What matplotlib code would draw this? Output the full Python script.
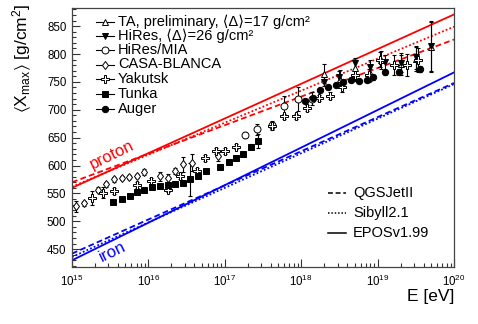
import numpy as np
import matplotlib
matplotlib.use("Agg")
import matplotlib.pyplot as plt
from matplotlib.ticker import LogLocator, MultipleLocator, LogFormatterSciNotation, NullFormatter

plt.rcParams['font.family'] = ['Liberation Sans', 'DejaVu Sans']
plt.rcParams['mathtext.fontset'] = 'custom'
plt.rcParams['mathtext.rm'] = 'Liberation Sans'
plt.rcParams['mathtext.it'] = 'Liberation Sans:italic'
plt.rcParams['mathtext.bf'] = 'Liberation Sans:bold'
plt.rcParams['mathtext.default'] = 'regular'
plt.rcParams['mathtext.fallback'] = 'stixsans'

# ---------------- data ----------------
model_logE = [15.0, 20.0]
proton_epos = [560, 871]
proton_qgsjet = [570, 826]
proton_sibyll = [562, 849]
iron_epos = [430, 767]
iron_qgsjet = [442, 748]
iron_sibyll = [436, 746]

ta_logE = [18.30, 18.51, 18.70, 18.90, 19.05, 19.30, 19.50, 19.70]
ta_xmax = [765, 756, 775, 766, 790, 782, 791, 812]
ta_err = [17, 15, 15, 15, 16, 20, 22, 45]

hires_logE = [18.30, 18.50, 18.70, 18.90, 19.10, 19.30, 19.50, 19.70]
hires_xmax = [750, 759, 783, 777, 785, 783, 794, 815]
hires_err = [8, 10, 10, 12, 14, 16, 20, 45]

hiresmia_logE = [17.26, 17.42, 17.62, 17.78, 17.96, 18.14]
hiresmia_xmax = [655, 665, 672, 707, 719, 720]
hiresmia_err = [6, 10, 8, 18, 22, 12]

casa_logE = [15.05, 15.16, 15.34, 15.45, 15.55, 15.65, 15.75, 15.85, 15.94,
             16.15, 16.25, 16.35, 16.45, 16.57, 16.91]
casa_xmax = [527, 532, 557, 566, 575, 578, 579, 581, 588,
             581, 578, 590, 602, 605, 617]
casa_err = [10, 4, 4, 4, 4, 4, 4, 4, 5, 8, 7, 6, 14, 15, 8]

yakutsk_logE = [15.26, 15.41, 15.55, 15.85, 16.04, 16.25, 16.41, 16.63, 16.74,
                16.89, 17.00, 17.15, 17.62, 17.77, 17.93, 18.07, 18.23, 18.38,
                18.54, 18.70, 18.89, 19.03, 19.21, 19.38, 19.53]
yakutsk_xmax = [542, 551, 554, 565, 572, 557, 581, 591, 614,
                626, 626, 634, 670, 688, 688, 703, 721, 725,
                740, 762, 762, 790, 780, 780, 789]
yakutsk_err = [12, 10, 5, 5, 5, 5, 5, 5, 5,
               5, 5, 5, 5, 5, 5, 5, 6, 6,
               8, 10, 12, 14, 18, 20, 22]

tunka_logE = [15.54, 15.65, 15.76, 15.85, 15.94, 16.05, 16.15, 16.26, 16.35, 16.45,
              16.55, 16.65, 16.76, 16.94, 17.05, 17.15, 17.24, 17.34, 17.43]
tunka_xmax = [535, 540, 546, 552, 557, 561, 563, 565, 567, 569,
              575, 582, 590, 598, 606, 614, 620, 634, 644]
tunka_err = [3, 3, 3, 3, 3, 3, 3, 3, 3, 3, 30, 3, 3, 3, 3, 3, 3, 5, 12]

auger_logE = [18.05, 18.15, 18.25, 18.35, 18.45, 18.55, 18.65, 18.75, 18.86,
              18.94, 19.10, 19.28, 19.55]
auger_xmax = [715, 722, 735, 740, 745, 749, 754, 752, 753, 758, 767, 768, 773]
auger_err = [3, 3, 3, 3, 3, 3, 3, 3, 3, 4, 4, 5, 6]

legend_labels = ["TA, preliminary, \u27e8\u0394\u27e9=17 g/cm\u00b2",
                 "HiRes, \u27e8\u0394\u27e9=26 g/cm\u00b2",
                 "HiRes/MIA", "CASA-BLANCA", "Yakutsk", "Tunka", "Auger"]
model_labels = ["QGSJetII", "Sibyll2.1", "EPOSv1.99"]

# ---------------- figure ----------------
W, H = 478, 324
fig = plt.figure(figsize=(W / 100, H / 100), dpi=100)
L, R, T, B = 72, 454, 8.3, 267
ax = fig.add_axes([L / W, 1 - B / H, (R - L) / W, (B - T) / H])

E = lambda lg: 10.0 ** np.asarray(lg)

red, blue = '#ff0000', '#0000ff'
dash = (0, (3.2, 1.8))
dot = (0, (1.0, 1.2))
lw = 1.3
ax.plot(E(model_logE), proton_epos, color=red, lw=lw, ls='-')
ax.plot(E(model_logE), proton_qgsjet, color=red, lw=lw, ls=dash)
ax.plot(E(model_logE), proton_sibyll, color=red, lw=lw, ls=dot)
ax.plot(E(model_logE), iron_epos, color=blue, lw=lw, ls='-')
ax.plot(E(model_logE), iron_qgsjet, color=blue, lw=lw, ls=dash)
ax.plot(E(model_logE), iron_sibyll, color=blue, lw=lw, ls=dot)

ax.text(3.3e15, 620, "proton", color=red, fontsize=12, rotation=26,
        ha='center', va='center')
ax.text(3.4e15, 445, "iron", color=blue, fontsize=12, rotation=26,
        ha='center', va='center')

styles = [
    (ta_logE, ta_xmax, ta_err, dict(marker='^', mfc='white', ms=5)),
    (hires_logE, hires_xmax, hires_err, dict(marker='v', mfc='black', ms=4.8)),
    (hiresmia_logE, hiresmia_xmax, hiresmia_err, dict(marker='o', mfc='white', ms=5)),
    (casa_logE, casa_xmax, casa_err, dict(marker='d', mfc='white', ms=4.5)),
    (yakutsk_logE, yakutsk_xmax, yakutsk_err, dict(marker='P', mfc='white', ms=5.2)),
    (tunka_logE, tunka_xmax, tunka_err, dict(marker='s', mfc='black', ms=4.4)),
    (auger_logE, auger_xmax, auger_err, dict(marker='o', mfc='black', ms=4.6)),
]
for lgE, xm, er, st in styles:
    ax.errorbar(E(lgE), xm, yerr=er, fmt='none', ecolor='black', elinewidth=0.8,
                capsize=1.6, capthick=0.8, zorder=3)
    ax.plot(E(lgE), xm, ls='none', mec='black', mew=0.7, zorder=4, **st)

ax.set_xscale('log')
ax.set_xlim(1e15, 1e20)
ax.set_ylim(418, 882)

ax.xaxis.set_major_locator(LogLocator(base=10, numticks=10))
ax.xaxis.set_minor_locator(LogLocator(base=10, subs=np.arange(2, 10), numticks=20))
ax.xaxis.set_major_formatter(LogFormatterSciNotation())
ax.xaxis.set_minor_formatter(NullFormatter())
ax.yaxis.set_major_locator(MultipleLocator(50))
ax.yaxis.set_minor_locator(MultipleLocator(10))

ax.tick_params(axis='both', which='both', direction='in', top=False, right=False,
               labelsize=8.3, width=0.8, color='#333333')
ax.tick_params(axis='both', which='major', length=6)
ax.tick_params(axis='both', which='minor', length=3)
ax.tick_params(axis='x', pad=5)
ax.tick_params(axis='y', pad=4)
for s in ax.spines.values():
    s.set_linewidth(0.9)
    s.set_color('#444444')

fig.text(22 / W, 1 - 58 / H, r"$\langle$X$_{max}$$\rangle$ [g/cm$^2$]", rotation=90,
         ha='center', va='center', fontsize=12.5)
fig.text(R / W, 1 - 297 / H, "E [eV]", ha='right', va='center', fontsize=12.5)

# ---------------- legends (drawn in axes coords) ----------------
def axc(px, py):
    return (px - L) / (R - L), (B - py) / (B - T)

rows1 = [22, 35.5, 50, 64.5, 79.3, 94.3, 109]
for (lgE, xm, er, st), lab, py in zip(styles, legend_labels, rows1):
    x0, y = axc(96, py)
    x1, _ = axc(114, py)
    xm_, _ = axc(105, py)
    xt, _ = axc(118, py)
    ax.plot([x0, x1], [y, y], transform=ax.transAxes, color='black', lw=0.8, clip_on=False)
    ax.plot([xm_], [y], transform=ax.transAxes, ls='none', mec='black', mew=0.7,
            clip_on=False, **st)
    ax.text(xt, y, lab, transform=ax.transAxes, ha='left', va='center', fontsize=10.5)

rows2 = [193.3, 212.7, 232.7]
for ls_, lab, py in zip([dash, dot, '-'], model_labels, rows2):
    x0, y = axc(328, py)
    x1, _ = axc(346, py)
    xt, _ = axc(353, py)
    ax.plot([x0, x1], [y, y], transform=ax.transAxes, color='black', lw=1.1, ls=ls_)
    ax.text(xt, y, lab, transform=ax.transAxes, ha='left', va='center', fontsize=10.5)

fig.savefig("out.png", dpi=100)
